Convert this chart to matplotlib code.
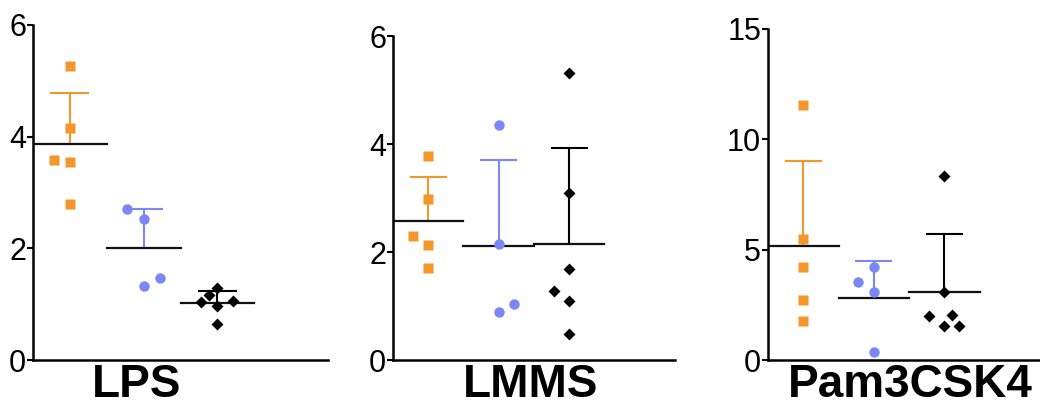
import matplotlib

matplotlib.use("Agg")
import matplotlib.pyplot as plt  # noqa: E402
import numpy as np  # noqa: E402

plt.rcParams["font.family"] = ["Liberation Sans", "DejaVu Sans"]

ORANGE = "#F5962A"
BLUE = "#7C87F6"
BLACK = "#000000"

# values, one list per group
lps_orange = [5.27, 4.15, 3.59, 3.54, 2.79]
lps_blue = [2.70, 2.52, 1.46, 1.33]
lps_black = [1.29, 1.16, 1.06, 1.03, 0.97, 0.64]

lmms_orange = [3.78, 2.98, 2.30, 2.13, 1.70]
lmms_blue = [4.36, 2.15, 1.04, 0.88]
lmms_black = [5.31, 3.09, 1.69, 1.28, 1.09, 0.48]

pam_orange = [11.55, 5.47, 4.23, 2.72, 1.78]
pam_blue = [4.20, 3.55, 3.07, 0.38]
pam_black = [8.35, 3.09, 2.04, 1.99, 1.55, 1.54]

panel_labels = ["LPS", "LMMS", "Pam3CSK4"]
panel_yticks = [[0, 2, 4, 6], [0, 2, 4, 6], [0, 5, 10, 15]]

# horizontal scatter of points that overlap (fraction of a slot)
lps_jitter = [[0, 0, -0.21, 0, 0], [-0.22, 0, 0.22, 0], [0, -0.11, 0.21, -0.22, 0, 0]]
lmms_jitter = [[0, 0, -0.22, 0, 0], [0, 0, 0.21, 0], [0, 0, 0, -0.22, 0, 0]]
pam_jitter = [[0, 0, 0, 0, 0], [0, -0.22, 0, 0], [0, 0, 0.11, -0.22, 0.21, 0]]

panels = [
    ([lps_orange, lps_blue, lps_black], lps_jitter),
    ([lmms_orange, lmms_blue, lmms_black], lmms_jitter),
    ([pam_orange, pam_blue, pam_black], pam_jitter),
]
styles = [(ORANGE, "s", 6.5), (BLUE, "o", 7.5), (BLACK, "D", 6.5)]

W, H = 1040, 407
# axes boxes in pixels: left, top (value at ymax), right
boxes = [(33, 25, 328), (393, 36, 675), (768, 29, 1050)]
label_x = [137, 531, 910]
bottom = 360

fig = plt.figure(figsize=(W / 100, H / 100), dpi=100)
for (groups, jit), (l, t, r), ticks, lab, lx in zip(
        panels, boxes, panel_yticks, panel_labels, label_x):
    ax = fig.add_axes([l / W, 1 - bottom / H, (r - l) / W, (bottom - t) / H])
    for i, (vals, dx, (col, mk, ms)) in enumerate(zip(groups, jit, styles)):
        x0 = i + 1
        vals = np.asarray(vals)
        m, sd = vals.mean(), vals.std(ddof=1)
        ax.plot([x0, x0], [m, m + sd], color=col, lw=1.5, zorder=2)
        ax.plot([x0 - 0.25, x0 + 0.25], [m + sd, m + sd], color=col, lw=1.5, zorder=2)
        ax.plot([x0 - 0.5, x0 + 0.5], [m, m], color="#111111", lw=1.6, zorder=2)
        ax.plot(x0 + np.asarray(dx), vals, ls="none", marker=mk, ms=ms,
                color=col, mec="none", zorder=3)
    ax.set_xlim(0.5, 4.5)
    ax.set_ylim(ticks[0], ticks[-1])
    ax.set_yticks(ticks)
    ax.set_xticks([])
    for s in ("top", "right"):
        ax.spines[s].set_visible(False)
    for s in ("left", "bottom"):
        ax.spines[s].set_linewidth(1.8)
        ax.spines[s].set_clip_on(False)
    ax.tick_params(axis="y", length=4, width=1.5, pad=1, labelsize=22)
    fig.text(lx / W, 1 - 397 / H, lab, ha="center", va="baseline",
             fontsize=33, fontweight="bold")

fig.savefig("out.png", dpi=100)
plt.close(fig)
